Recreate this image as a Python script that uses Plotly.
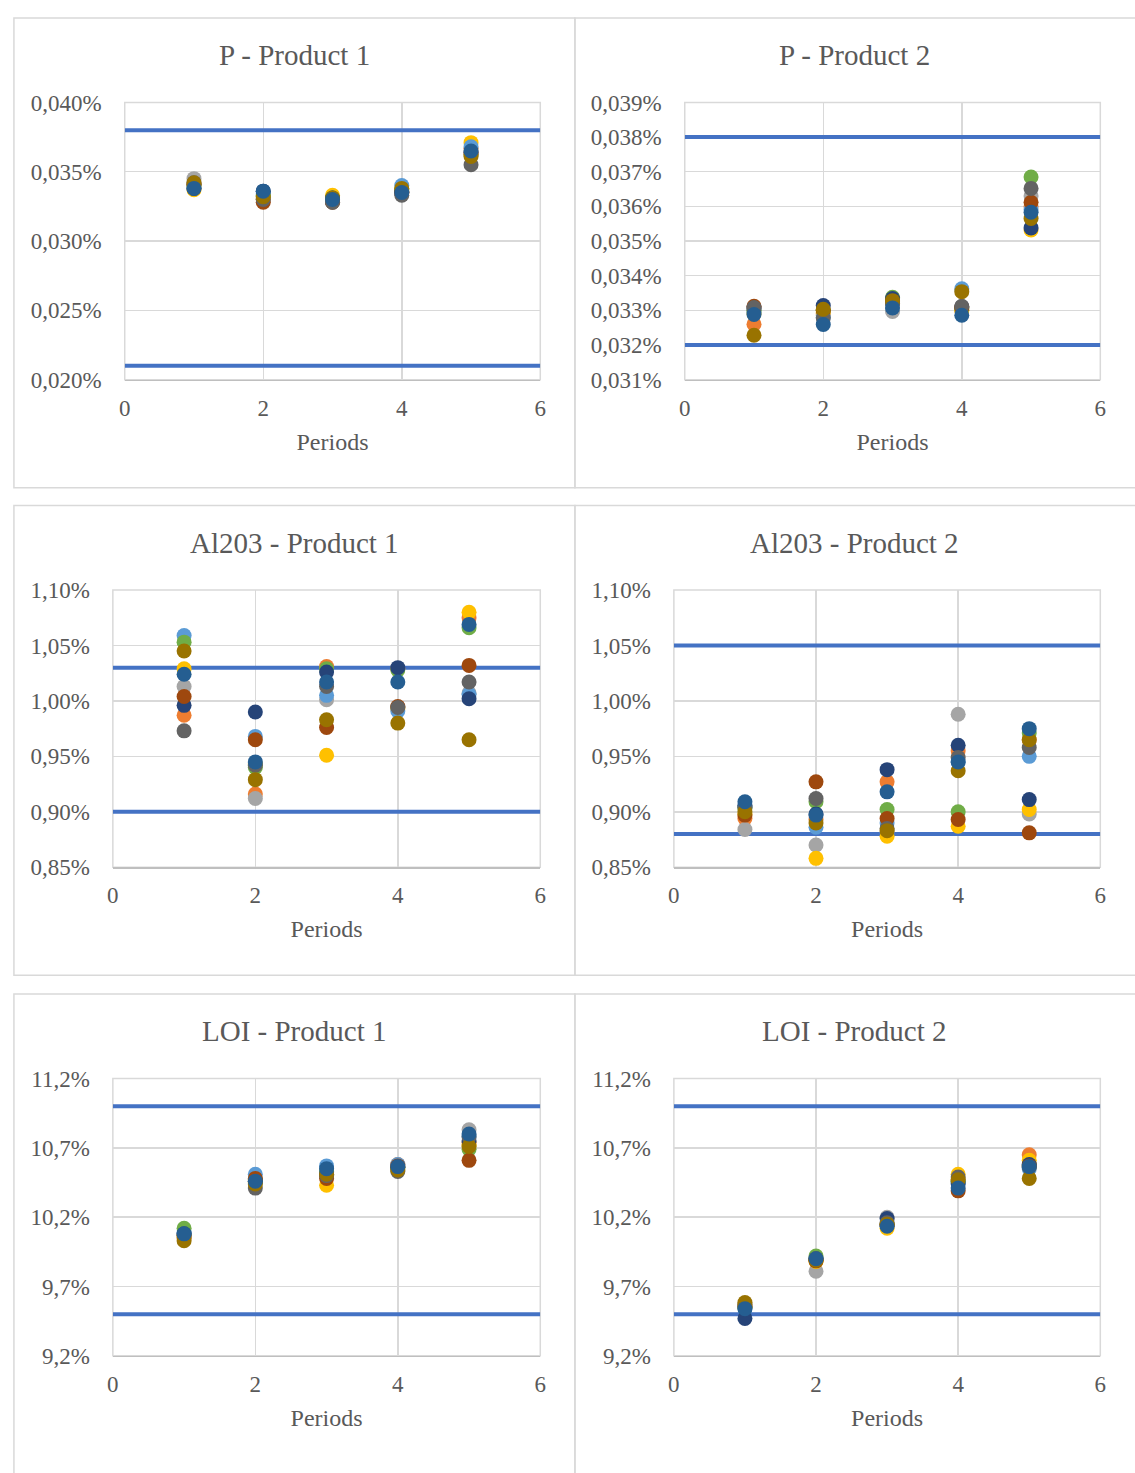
import plotly.graph_objects as go

# ---------------- data ----------------
PERIODS = [1, 2, 3, 4, 5]
SERIES_COLORS = ["#ED7D31", "#A5A5A5", "#FFC000", "#5B9BD5", "#70AD47",
                 "#264478", "#9E480E", "#636363", "#997300", "#255E91"]
LIMIT_X = [0, 6]
LIMIT_COLOR = "#4472C4"

# P - Product 1 (values in %), one list per series, 5 periods each
P1 = [
    [0.0340, 0.0330, 0.0329, 0.0335, 0.0367],
    [0.0345, 0.0330, 0.0328, 0.0336, 0.0365],
    [0.0337, 0.0332, 0.0333, 0.0338, 0.0371],
    [0.0339, 0.0334, 0.0330, 0.0340, 0.0368],
    [0.0340, 0.0333, 0.0331, 0.0337, 0.0362],
    [0.0338, 0.0336, 0.0331, 0.0335, 0.0364],
    [0.0341, 0.0328, 0.0328, 0.0335, 0.0363],
    [0.0342, 0.0330, 0.0328, 0.0333, 0.0355],
    [0.0342, 0.0332, 0.0331, 0.0338, 0.0361],
    [0.0338, 0.0336, 0.0330, 0.0335, 0.0365],
]
P1_LIMITS = [0.038, 0.021]

P2 = [
    [0.03260, 0.03290, 0.03320, 0.03300, 0.03600],
    [0.03300, 0.03285, 0.03297, 0.03300, 0.03630],
    [0.03290, 0.03295, 0.03330, 0.03300, 0.03532],
    [0.03295, 0.03280, 0.03325, 0.03362, 0.03590],
    [0.03300, 0.03300, 0.03338, 0.03305, 0.03685],
    [0.03305, 0.03314, 0.03334, 0.03310, 0.03538],
    [0.03312, 0.03300, 0.03325, 0.03308, 0.03612],
    [0.03308, 0.03278, 0.03320, 0.03312, 0.03652],
    [0.03228, 0.03303, 0.03328, 0.03354, 0.03565],
    [0.03288, 0.03259, 0.03307, 0.03286, 0.03583],
]
P2_LIMITS = [0.038, 0.032]

AL1 = [
    [0.987, 0.916, 1.031, 1.029, 1.075],
    [1.013, 0.912, 1.001, 0.994, 1.007],
    [1.029, 0.943, 0.951, 0.993, 1.080],
    [1.059, 0.968, 1.005, 0.991, 1.006],
    [1.053, 0.940, 1.029, 1.028, 1.066],
    [0.996, 0.990, 1.026, 1.030, 1.002],
    [1.004, 0.965, 0.976, 0.995, 1.032],
    [0.973, 0.942, 1.013, 0.994, 1.017],
    [1.045, 0.929, 0.983, 0.980, 0.965],
    [1.024, 0.945, 1.017, 1.017, 1.069],
]
AL1_LIMITS = [1.03, 0.90]

AL2 = [
    [0.894, 0.893, 0.927, 0.955, 0.965],
    [0.884, 0.870, 0.882, 0.988, 0.898],
    [0.898, 0.858, 0.878, 0.887, 0.902],
    [0.905, 0.886, 0.890, 0.945, 0.950],
    [0.903, 0.909, 0.902, 0.900, 0.971],
    [0.906, 0.898, 0.938, 0.960, 0.911],
    [0.897, 0.927, 0.894, 0.893, 0.881],
    [0.904, 0.912, 0.885, 0.949, 0.958],
    [0.900, 0.890, 0.883, 0.937, 0.965],
    [0.909, 0.897, 0.918, 0.945, 0.975],
]
AL2_LIMITS = [1.05, 0.88]

LOI1 = [
    [10.07, 10.47, 10.50, 10.58, 10.74],
    [10.08, 10.46, 10.52, 10.56, 10.83],
    [10.06, 10.45, 10.43, 10.55, 10.72],
    [10.09, 10.51, 10.57, 10.58, 10.78],
    [10.12, 10.47, 10.53, 10.56, 10.69],
    [10.08, 10.46, 10.51, 10.56, 10.75],
    [10.05, 10.48, 10.48, 10.57, 10.61],
    [10.07, 10.41, 10.50, 10.53, 10.78],
    [10.03, 10.44, 10.51, 10.54, 10.71],
    [10.08, 10.46, 10.55, 10.565, 10.80],
]
LOI1_LIMITS = [11.0, 9.5]

LOI2 = [
    [9.55, 9.89, 10.15, 10.47, 10.65],
    [9.55, 9.81, 10.20, 10.46, 10.58],
    [9.56, 9.88, 10.12, 10.51, 10.61],
    [9.54, 9.90, 10.14, 10.45, 10.55],
    [9.55, 9.92, 10.15, 10.46, 10.57],
    [9.47, 9.90, 10.19, 10.44, 10.58],
    [9.56, 9.885, 10.14, 10.39, 10.57],
    [9.57, 9.90, 10.16, 10.49, 10.56],
    [9.585, 9.89, 10.15, 10.47, 10.48],
    [9.54, 9.90, 10.135, 10.41, 10.565],
]
LOI2_LIMITS = [11.0, 9.5]

TITLES = ["P - Product 1", "P - Product 2", "Al203 - Product 1",
          "Al203 - Product 2", "LOI - Product 1", "LOI - Product 2"]
X_TITLE = "Periods"

# ---------------- layout helpers ----------------
W, H = 1135, 1473
FONT = "Liberation Serif, Times New Roman, serif"
TXT = "#595959"
GRID = "#D9D9D9"

panels = [
    # data, limits, yrange, dtick, fmt, plot box (x0, x1, y0, y1) in px, panel box
    (P1, P1_LIMITS, [0.020, 0.040], 0.005, ".3f", (120, 540, 92, 374), (8, 575, 6, 484)),
    (P2, P2_LIMITS, [0.031, 0.039], 0.001, ".3f", (686, 1106, 92, 374), (575, 1200, 6, 484)),
    (AL1, AL1_LIMITS, [0.85, 1.10], 0.05, ".2f", (108, 540, 588, 870), (8, 575, 502, 980)),
    (AL2, AL2_LIMITS, [0.85, 1.10], 0.05, ".2f", (675, 1106, 588, 870), (575, 1200, 502, 980)),
    (LOI1, LOI1_LIMITS, [9.2, 11.2], 0.5, ".1f", (108, 540, 1085, 1367), (8, 575, 999, 1600)),
    (LOI2, LOI2_LIMITS, [9.2, 11.2], 0.5, ".1f", (675, 1106, 1085, 1367), (575, 1200, 999, 1600)),
]

fig = go.Figure()
layout = dict(
    width=W, height=H, margin=dict(l=0, r=0, t=0, b=0),
    paper_bgcolor="white", plot_bgcolor="white", showlegend=False,
    separators=",.", font=dict(family=FONT, color=TXT, size=23),
)
shapes = []
annotations = []

for i, (data, limits, yr, dt, fmt, box, pbox) in enumerate(panels):
    n = i + 1
    xa = "x" if n == 1 else f"x{n}"
    ya = "y" if n == 1 else f"y{n}"
    x0, x1, y0, y1 = box
    # limit lines first (under markers)
    for lim in limits:
        fig.add_trace(go.Scatter(x=LIMIT_X, y=[lim, lim], mode="lines",
                                 line=dict(color=LIMIT_COLOR, width=4),
                                 xaxis=xa, yaxis=ya, hoverinfo="skip"))
    for s, vals in enumerate(data):
        fig.add_trace(go.Scatter(x=PERIODS, y=vals, mode="markers",
                                 marker=dict(color=SERIES_COLORS[s], size=15, line=dict(width=0)),
                                 xaxis=xa, yaxis=ya, cliponaxis=False))
    layout[f"xaxis{'' if n == 1 else n}"] = dict(
        domain=[x0 / W, x1 / W], anchor=ya, range=[0, 6], dtick=2, tick0=0,
        showgrid=True, gridcolor=GRID, gridwidth=1.5, zeroline=False,
        showline=True, linecolor="#BFBFBF", linewidth=1.5,
        ticks="", ticklabelstandoff=7, tickfont=dict(size=23, color=TXT, family=FONT),
        title=dict(text=X_TITLE, font=dict(size=24, color=TXT, family=FONT), standoff=13),
        fixedrange=True,
    )
    layout[f"yaxis{'' if n == 1 else n}"] = dict(
        domain=[1 - y1 / H, 1 - y0 / H], anchor=xa, range=yr, dtick=dt, tick0=yr[0],
        showgrid=True, gridcolor=GRID, gridwidth=1.5, zeroline=False,
        showline=False, ticks="", ticklabelstandoff=22,
        tickformat=fmt, ticksuffix="%", tickfont=dict(size=23, color=TXT, family=FONT),
        fixedrange=True,
    )
    # plot box
    shapes.append(dict(type="rect", xref="paper", yref="paper",
                       x0=x0 / W, x1=x1 / W, y0=1 - y1 / H, y1=1 - y0 / H,
                       line=dict(color=GRID, width=1.5), layer="below"))
    # panel border
    px0, px1, py0, py1 = pbox
    shapes.append(dict(type="rect", xref="paper", yref="paper",
                       x0=px0 / W, x1=px1 / W, y0=1 - py1 / H, y1=1 - py0 / H,
                       line=dict(color=GRID, width=1.5), layer="below"))
    # title
    annotations.append(dict(text=TITLES[i], xref="paper", yref="paper",
                            x=((px0 + min(px1, 1140)) / 2) / W, y=1 - (py0 + 38) / H,
                            xanchor="center", yanchor="middle", showarrow=False,
                            font=dict(size=29, color=TXT, family=FONT)))

layout["shapes"] = shapes
layout["annotations"] = annotations
fig.update_layout(**layout)
fig.write_html(
    "out.html",
    config={"displayModeBar": False, "staticPlot": True},
    post_script="document.documentElement.style.margin='0';"
                "document.body.style.margin='0';document.body.style.padding='0';"
                "document.body.style.overflow='hidden';",
)
